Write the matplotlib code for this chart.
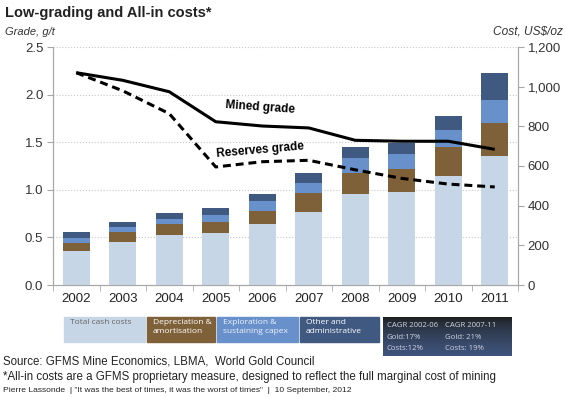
import numpy as np
import matplotlib
matplotlib.use('Agg')
import matplotlib.pyplot as plt
from matplotlib.patches import Rectangle
from matplotlib.ticker import FuncFormatter

plt.rcParams['font.family'] = ['Liberation Sans', 'DejaVu Sans']

# data
years = ['2002', '2003', '2004', '2005', '2006', '2007', '2008', '2009', '2010', '2011']
cash_costs = [173, 217, 250, 264, 307, 370, 457, 467, 549, 650]
depreciation = [40, 49, 57, 54, 66, 92, 109, 119, 145, 165]
exploration = [25, 25, 26, 35, 49, 51, 73, 73, 87, 118]
other_admin = [31, 27, 32, 37, 37, 50, 55, 55, 73, 134]
mined_grade = [2.23, 2.15, 2.03, 1.715, 1.67, 1.65, 1.52, 1.51, 1.51, 1.425]
reserves_grade = [2.23, 2.04, 1.80, 1.24, 1.295, 1.31, 1.21, 1.12, 1.06, 1.03]

c_cash = '#c7d6e6'
c_dep = '#7e6039'
c_expl = '#6890cb'
c_other = '#3f5981'
grey = '#a8a8a8'

W, H = 565, 397
fig = plt.figure(figsize=(W / 100, H / 100), dpi=100)

pos = [53 / W, 1 - 285 / H, (518 - 53) / W, (285 - 47) / H]
ax = fig.add_axes(pos)          # grade axis, grid
ax2 = ax.twinx()                # cost axis, bars
ax3 = ax.twinx()                # lines on top

x = np.arange(len(years))

# grade axis
ax.set_ylim(0, 2.5)
ax.set_yticks(np.arange(0, 2.51, 0.5))
ax.yaxis.set_major_formatter(FuncFormatter(lambda v, p: f'{v:.1f}'))
ax.grid(axis='y', color='#c8c8c8', linestyle=':', linewidth=0.8)
ax.set_axisbelow(True)

# stacked bars
bottom = np.zeros(len(years))
for vals, col in [(cash_costs, c_cash), (depreciation, c_dep),
                  (exploration, c_expl), (other_admin, c_other)]:
    ax2.bar(x, vals, width=0.58, bottom=bottom, color=col, zorder=2)
    bottom += np.array(vals)
ax2.set_ylim(0, 1200)
ax2.set_yticks(range(0, 1201, 200))
ax2.yaxis.set_major_formatter(FuncFormatter(lambda v, p: f'{int(v):,}'))

# grade lines
ax3.set_ylim(0, 2.5)
ax3.plot(x, mined_grade, color='black', lw=2.2, solid_capstyle='butt')
ax3.plot(x, reserves_grade, color='black', lw=2.2, dashes=(2.6, 1.6))
ax3.text(3.95, 1.87, 'Mined grade', fontsize=8.5, fontweight='bold',
         ha='center', va='center', rotation=-4)
ax3.text(3.95, 1.42, 'Reserves grade', fontsize=8.5, fontweight='bold',
         ha='center', va='center', rotation=5)
ax3.set_yticks([])

for a in (ax, ax2, ax3):
    a.set_xlim(-0.5, len(years) - 0.5)
    a.spines['top'].set_visible(False)
    for s in ('left', 'right', 'bottom'):
        a.spines[s].set_color(grey)
ax3.spines['left'].set_visible(False)
ax3.spines['right'].set_visible(False)
ax3.spines['bottom'].set_visible(False)

ax.set_xticks(x)
ax.set_xticklabels(years)
ax.set_xticks(np.arange(-0.5, len(years)), minor=True)
ax.tick_params(axis='x', which='major', length=0, pad=6, labelsize=9.5, colors='#222222')
ax.tick_params(axis='x', which='minor', length=4, color=grey)
ax.tick_params(axis='y', length=4, color=grey, labelsize=9.5, labelcolor='#333333', pad=3)
ax2.tick_params(axis='y', length=4, color=grey, labelsize=9.5, labelcolor='#333333', pad=3)

# titles
fig.text(5 / W, 1 - 13 / H, 'Low-grading and All-in costs*', fontsize=10.5,
         fontweight='bold', va='center', ha='left', color='#222222')
fig.text(5 / W, 1 - 32 / H, 'Grade, g/t', fontsize=8, style='italic',
         va='center', ha='left', color='#333333')
fig.text(563 / W, 1 - 32 / H, 'Cost, US$/oz', fontsize=8.6, style='italic',
         va='center', ha='right', color='#333333')

# legend boxes
boxes = [
    (64, 145, c_cash, 'Total cash costs', '#666666'),
    (147, 215, c_dep, 'Depreciation &\namortisation', 'white'),
    (217, 298, c_expl, 'Exploration &\nsustaining capex', '#f0f4fa'),
    (300, 379, c_other, 'Other and\nadministrative', 'white'),
]
for x0, x1, col, label, tcol in boxes:
    fig.patches.append(Rectangle((x0 / W, 1 - 342 / H), (x1 - x0) / W, 25 / H,
                                 transform=fig.transFigure, color=col))
    fig.text((x0 + 6) / W, 1 - 319 / H, label, fontsize=6, color=tcol,
             va='top', ha='left', family=['Open Sans', 'DejaVu Sans'], linespacing=1.45)

# CAGR box with gradient
cax = fig.add_axes([383 / W, 1 - 356 / H, 129 / W, 39 / H])
grad = np.linspace(0, 1, 64).reshape(-1, 1) ** 0.55
c_top = np.array([0.10, 0.10, 0.08])
c_bot = np.array([0.25, 0.33, 0.49])
img = c_top + (c_bot - c_top) * grad[..., None]
cax.imshow(img, aspect='auto', extent=[0, 1, 0, 1])
cax.set_axis_off()
tc = '#cfd6e2'
for col_x, lines in [(0.03, ['CAGR 2002-06', 'Gold:17%', 'Costs:12%']),
                     (0.48, ['CAGR 2007-11', 'Gold: 21%', 'Costs: 19%'])]:
    for i, t in enumerate(lines):
        cax.text(col_x, 0.77 - i * 0.285, t, fontsize=5.6, color=tc, va='center',
                 ha='left', transform=cax.transAxes, family=['Open Sans', 'DejaVu Sans'])

# footer
fig.text(3 / W, 1 - 362 / H, 'Source: GFMS Mine Economics, LBMA,  World Gold Council',
         fontsize=8.3, va='center', ha='left', color='#222222')
fig.text(3 / W, 1 - 377 / H,
         '*All-in costs are a GFMS proprietary measure, designed to reflect the full marginal cost of mining',
         fontsize=8.3, va='center', ha='left', color='#222222')
fig.text(3 / W, 1 - 391 / H,
         'Pierre Lassonde  | "It was the best of times, it was the worst of times"  |  10 September, 2012',
         fontsize=6.1, va='center', ha='left', color='#222222')

fig.savefig('out.png', dpi=100)
